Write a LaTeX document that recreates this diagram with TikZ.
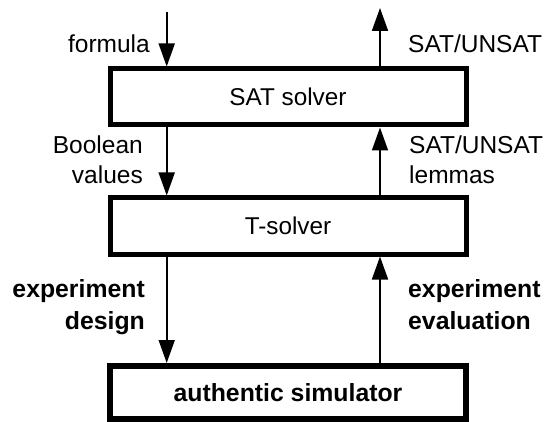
\documentclass[tikz,border=0pt]{standalone}
\usepackage{fontspec}
\setmainfont{Liberation Sans}
\usetikzlibrary{arrows.meta}
% two-line labels whose baseline is that of the first line
\newcommand{\rlines}[2]{\begin{tabular}[t]{@{}r@{}}#1\\#2\end{tabular}}
\newcommand{\llines}[2]{\begin{tabular}[t]{@{}l@{}}#1\\#2\end{tabular}}
\begin{document}
\begin{tikzpicture}[x=1pt,y=-1pt,
  every node/.style={inner sep=0pt},
  lblfont/.style={font=\fontsize{24.5}{30}\selectfont},
  boldfont/.style={font=\fontsize{24.8}{32}\selectfont\bfseries},
  block/.style={draw, line width=5pt, minimum width=356pt, minimum height=56pt,
    font=\fontsize{24.3}{30}\selectfont},
  mainblock/.style={block, line width=6pt, minimum height=53pt, boldfont},
  flow/.style={line width=1.7pt, -{Triangle[length=23pt,width=16pt]}}]
  \useasboundingbox (0,0) rectangle (546,422);

  % the three stacked components
  \node[block] (sat) at (288,97) {SAT solver};
  \node[block] (ts) at (288,226) {T-solver};
  \node[mainblock] (sim) at (288,392.5) {authentic simulator};

  % free ends of the external input and output
  \coordinate (in) at (166.7,12.5);
  \coordinate (out) at (380,8);

  % downward flows on the left, upward flows on the right
  \draw[flow] (in) -- ([xshift=-121.3pt]sat.north);
  \draw[flow] ([xshift=92pt]sat.north) -- (out);
  \draw[flow] ([xshift=-121.3pt]sat.south) -- ([xshift=-121.3pt]ts.north);
  \draw[flow] ([xshift=92pt]ts.north) -- ([xshift=92pt]sat.south);
  \draw[flow] ([xshift=-121.3pt]ts.south) -- ([xshift=-121.3pt]sim.north);
  \draw[flow] ([xshift=92pt]sim.north) -- ([xshift=92pt]ts.south);

  % labels of the flows
  \node[lblfont, anchor=base east] (lformula) at (150,53) {formula};
  \node[lblfont, anchor=base west] (lresult) at (408,53) {SAT/UNSAT};
  \node[lblfont, anchor=base east] (lbool) at (143,154) {\rlines{Boolean}{values}};
  \node[lblfont, anchor=base west] (llemma) at (409,154) {\llines{SAT/UNSAT}{lemmas}};
  \node[boldfont, anchor=base east] (ldesign) at (145,297) {\rlines{experiment}{design}};
  \node[boldfont, anchor=base west] (leval) at (408,297) {\llines{experiment}{evaluation}};
\end{tikzpicture}
\end{document}
